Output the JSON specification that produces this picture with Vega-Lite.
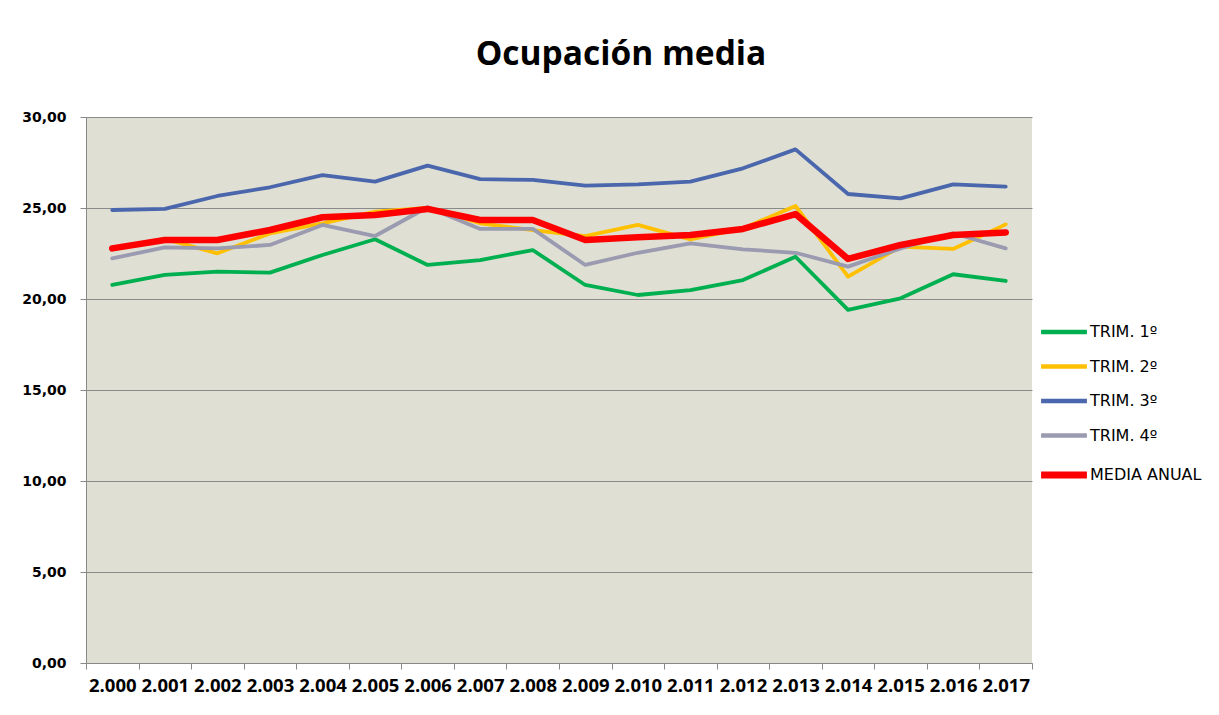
{
  "$schema": "https://vega.github.io/schema/vega-lite/v6.json",
  "autosize": {"type": "none"},
  "padding": {"left": 86, "top": 117, "right": 187, "bottom": 52},
  "width": 946,
  "height": 546,
  "background": "#ffffff",
  "title": {
    "text": "Ocupación media",
    "font": "Open Sans",
    "fontSize": 33.5,
    "fontWeight": "bold",
    "color": "#000000",
    "anchor": "middle",
    "dx": 62,
    "offset": 38
  },
  "datasets": {
    "d": [
      {"year": "2.000", "serie": "TRIM. 1º", "value": 20.77},
      {"year": "2.001", "serie": "TRIM. 1º", "value": 21.32},
      {"year": "2.002", "serie": "TRIM. 1º", "value": 21.50},
      {"year": "2.003", "serie": "TRIM. 1º", "value": 21.45},
      {"year": "2.004", "serie": "TRIM. 1º", "value": 22.42},
      {"year": "2.005", "serie": "TRIM. 1º", "value": 23.28},
      {"year": "2.006", "serie": "TRIM. 1º", "value": 21.87},
      {"year": "2.007", "serie": "TRIM. 1º", "value": 22.14},
      {"year": "2.008", "serie": "TRIM. 1º", "value": 22.69},
      {"year": "2.009", "serie": "TRIM. 1º", "value": 20.77},
      {"year": "2.010", "serie": "TRIM. 1º", "value": 20.22},
      {"year": "2.011", "serie": "TRIM. 1º", "value": 20.49},
      {"year": "2.012", "serie": "TRIM. 1º", "value": 21.04},
      {"year": "2.013", "serie": "TRIM. 1º", "value": 22.32},
      {"year": "2.014", "serie": "TRIM. 1º", "value": 19.40},
      {"year": "2.015", "serie": "TRIM. 1º", "value": 20.04},
      {"year": "2.016", "serie": "TRIM. 1º", "value": 21.36},
      {"year": "2.017", "serie": "TRIM. 1º", "value": 20.99},

      {"year": "2.000", "serie": "TRIM. 2º", "value": 22.72},
      {"year": "2.001", "serie": "TRIM. 2º", "value": 23.30},
      {"year": "2.002", "serie": "TRIM. 2º", "value": 22.51},
      {"year": "2.003", "serie": "TRIM. 2º", "value": 23.60},
      {"year": "2.004", "serie": "TRIM. 2º", "value": 24.16},
      {"year": "2.005", "serie": "TRIM. 2º", "value": 24.80},
      {"year": "2.006", "serie": "TRIM. 2º", "value": 25.00},
      {"year": "2.007", "serie": "TRIM. 2º", "value": 24.16},
      {"year": "2.008", "serie": "TRIM. 2º", "value": 23.79},
      {"year": "2.009", "serie": "TRIM. 2º", "value": 23.46},
      {"year": "2.010", "serie": "TRIM. 2º", "value": 24.07},
      {"year": "2.011", "serie": "TRIM. 2º", "value": 23.28},
      {"year": "2.012", "serie": "TRIM. 2º", "value": 23.88},
      {"year": "2.013", "serie": "TRIM. 2º", "value": 25.11},
      {"year": "2.014", "serie": "TRIM. 2º", "value": 21.23},
      {"year": "2.015", "serie": "TRIM. 2º", "value": 22.88},
      {"year": "2.016", "serie": "TRIM. 2º", "value": 22.75},
      {"year": "2.017", "serie": "TRIM. 2º", "value": 24.10},

      {"year": "2.000", "serie": "TRIM. 3º", "value": 24.89},
      {"year": "2.001", "serie": "TRIM. 3º", "value": 24.95},
      {"year": "2.002", "serie": "TRIM. 3º", "value": 25.66},
      {"year": "2.003", "serie": "TRIM. 3º", "value": 26.14},
      {"year": "2.004", "serie": "TRIM. 3º", "value": 26.81},
      {"year": "2.005", "serie": "TRIM. 3º", "value": 26.45},
      {"year": "2.006", "serie": "TRIM. 3º", "value": 27.33},
      {"year": "2.007", "serie": "TRIM. 3º", "value": 26.59},
      {"year": "2.008", "serie": "TRIM. 3º", "value": 26.54},
      {"year": "2.009", "serie": "TRIM. 3º", "value": 26.23},
      {"year": "2.010", "serie": "TRIM. 3º", "value": 26.30},
      {"year": "2.011", "serie": "TRIM. 3º", "value": 26.45},
      {"year": "2.012", "serie": "TRIM. 3º", "value": 27.18},
      {"year": "2.013", "serie": "TRIM. 3º", "value": 28.22},
      {"year": "2.014", "serie": "TRIM. 3º", "value": 25.77},
      {"year": "2.015", "serie": "TRIM. 3º", "value": 25.53},
      {"year": "2.016", "serie": "TRIM. 3º", "value": 26.30},
      {"year": "2.017", "serie": "TRIM. 3º", "value": 26.17},

      {"year": "2.000", "serie": "TRIM. 4º", "value": 22.23},
      {"year": "2.001", "serie": "TRIM. 4º", "value": 22.84},
      {"year": "2.002", "serie": "TRIM. 4º", "value": 22.78},
      {"year": "2.003", "serie": "TRIM. 4º", "value": 22.97},
      {"year": "2.004", "serie": "TRIM. 4º", "value": 24.07},
      {"year": "2.005", "serie": "TRIM. 4º", "value": 23.46},
      {"year": "2.006", "serie": "TRIM. 4º", "value": 25.04},
      {"year": "2.007", "serie": "TRIM. 4º", "value": 23.85},
      {"year": "2.008", "serie": "TRIM. 4º", "value": 23.85},
      {"year": "2.009", "serie": "TRIM. 4º", "value": 21.87},
      {"year": "2.010", "serie": "TRIM. 4º", "value": 22.54},
      {"year": "2.011", "serie": "TRIM. 4º", "value": 23.06},
      {"year": "2.012", "serie": "TRIM. 4º", "value": 22.73},
      {"year": "2.013", "serie": "TRIM. 4º", "value": 22.54},
      {"year": "2.014", "serie": "TRIM. 4º", "value": 21.78},
      {"year": "2.015", "serie": "TRIM. 4º", "value": 22.78},
      {"year": "2.016", "serie": "TRIM. 4º", "value": 23.61},
      {"year": "2.017", "serie": "TRIM. 4º", "value": 22.78},

      {"year": "2.000", "serie": "MEDIA ANUAL", "value": 22.78},
      {"year": "2.001", "serie": "MEDIA ANUAL", "value": 23.24},
      {"year": "2.002", "serie": "MEDIA ANUAL", "value": 23.24},
      {"year": "2.003", "serie": "MEDIA ANUAL", "value": 23.79},
      {"year": "2.004", "serie": "MEDIA ANUAL", "value": 24.49},
      {"year": "2.005", "serie": "MEDIA ANUAL", "value": 24.62},
      {"year": "2.006", "serie": "MEDIA ANUAL", "value": 24.95},
      {"year": "2.007", "serie": "MEDIA ANUAL", "value": 24.34},
      {"year": "2.008", "serie": "MEDIA ANUAL", "value": 24.34},
      {"year": "2.009", "serie": "MEDIA ANUAL", "value": 23.24},
      {"year": "2.010", "serie": "MEDIA ANUAL", "value": 23.39},
      {"year": "2.011", "serie": "MEDIA ANUAL", "value": 23.52},
      {"year": "2.012", "serie": "MEDIA ANUAL", "value": 23.85},
      {"year": "2.013", "serie": "MEDIA ANUAL", "value": 24.67},
      {"year": "2.014", "serie": "MEDIA ANUAL", "value": 22.20},
      {"year": "2.015", "serie": "MEDIA ANUAL", "value": 22.97},
      {"year": "2.016", "serie": "MEDIA ANUAL", "value": 23.52},
      {"year": "2.017", "serie": "MEDIA ANUAL", "value": 23.66}
    ]
  },
  "data": {"name": "d"},
  "encoding": {
    "x": {
      "field": "year",
      "type": "ordinal",
      "bandPosition": 0.5,
      "scale": {"type": "band", "paddingInner": 0, "paddingOuter": 0},
      "axis": {
        "title": null,
        "labelAngle": 0,
        "labelFont": "Open Sans",
        "labelFontWeight": "bold",
        "labelFontSize": 18.5,
        "labelColor": "#000000",
        "labelPadding": 7,
        "tickBand": "extent",
        "tickSize": 6,
        "tickColor": "#888888",
        "domainColor": "#888888",
        "grid": false
      }
    },
    "y": {
      "field": "value",
      "type": "quantitative",
      "scale": {"domain": [0, 30], "nice": false, "zero": true},
      "axis": {
        "title": null,
        "values": [0, 5, 10, 15, 20, 25, 30],
        "labelExpr": "replace(format(datum.value, '.2f'), '.', ',')",
        "labelFont": "DejaVu Sans",
        "labelFontWeight": "bold",
        "labelFontSize": 14,
        "labelColor": "#000000",
        "labelPadding": 14,
        "tickSize": 6,
        "tickColor": "#888888",
        "domainColor": "#888888",
        "grid": true,
        "gridColor": "#8a8a8a",
        "gridWidth": 1
      }
    },
    "color": {
      "field": "serie",
      "type": "nominal",
      "scale": {
        "domain": ["TRIM. 1º", "TRIM. 2º", "TRIM. 3º", "TRIM. 4º", "MEDIA ANUAL"],
        "range": ["#00B050", "#FFC000", "#4A66AC", "#9A9AB0", "#FF0000"]
      },
      "legend": {
        "title": null,
        "encode": {
          "symbols": {
            "update": {
              "strokeWidth": {"signal": "datum.value === 'MEDIA ANUAL' ? 7 : 4.5"}
            }
          }
        }
      }
    }
  },
  "layer": [
    {
      "transform": [{"filter": "datum.serie !== 'MEDIA ANUAL'"}],
      "mark": {"type": "line", "strokeWidth": 3.8, "strokeCap": "round", "strokeJoin": "round"}
    },
    {
      "transform": [{"filter": "datum.serie === 'MEDIA ANUAL'"}],
      "mark": {"type": "line", "strokeWidth": 6.5, "strokeCap": "round", "strokeJoin": "round"}
    }
  ],
  "config": {
    "view": {"fill": "#DFDFD3", "stroke": null},
    "legend": {
      "orient": "none",
      "legendX": 970,
      "legendY": 207,
      "symbolType": "stroke",
      "symbolSize": 2100,
      "labelFont": "DejaVu Sans",
      "labelFontSize": 16,
      "labelColor": "#000000",
      "rowPadding": 16.5,
      "labelOffset": 18,
      "padding": 0
    }
  }
}
